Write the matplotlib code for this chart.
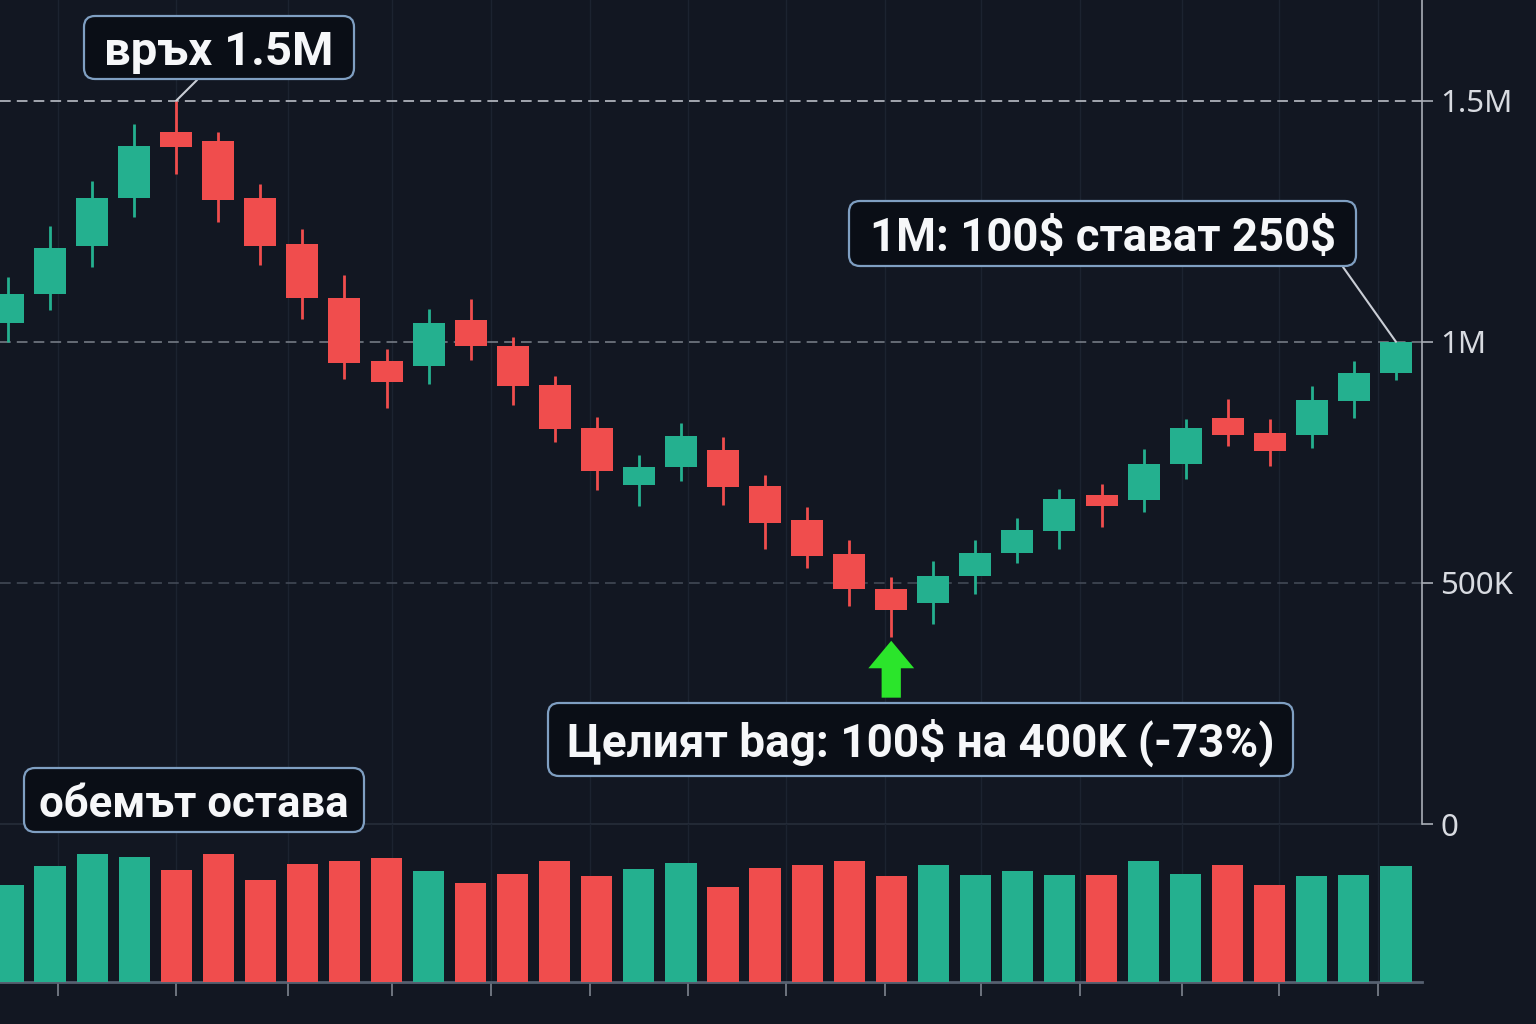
import matplotlib
matplotlib.use('Agg')
import matplotlib.pyplot as plt
from matplotlib.patches import FancyBboxPatch

plt.rcParams['font.family'] = ['Roboto', 'DejaVu Sans']

# candle data, prices in K
opens = [1040, 1100, 1199, 1299, 1435, 1416, 1299, 1203, 1091, 961,
         949, 1045, 992, 910, 822, 702, 741, 776, 700, 631,
         559, 488, 459, 514, 561, 608, 682, 671, 747, 841,
         810, 806, 878, 935]
highs = [1135, 1240, 1333, 1452, 1500, 1435, 1327, 1234, 1139, 986,
         1067, 1089, 1009, 929, 845, 765, 831, 802, 724, 657,
         588, 512, 545, 588, 635, 694, 706, 777, 839, 882,
         839, 908, 961, 1000]
lows = [1000, 1065, 1156, 1258, 1348, 1249, 1160, 1048, 922, 863,
        912, 963, 869, 792, 692, 659, 712, 661, 571, 531,
        453, 388, 414, 478, 541, 571, 616, 647, 716, 784,
        743, 780, 843, 920]
closes = [1100, 1195, 1299, 1407, 1403, 1294, 1199, 1091, 957, 916,
          1039, 992, 908, 820, 733, 741, 804, 698, 624, 555,
          488, 443, 514, 563, 610, 673, 659, 747, 822, 806,
          773, 880, 935, 1000]
volumes = [97, 116, 128, 125, 112, 128, 102, 118, 121, 124,
           111, 99, 108, 121, 106, 113, 119, 95, 114, 117,
           121, 106, 117, 107, 111, 107, 107, 121, 108, 117,
           97, 106, 107, 116]

price_ticks = [0, 500, 1000, 1500]
price_labels = ['0', '500K', '1M', '1.5M']
time_ticks = [1.19, 3.99, 6.66, 9.13, 11.48, 13.84, 16.17, 18.50, 20.85,
              23.13, 25.49, 27.91, 30.22, 32.57]

bg = '#121722'
up = '#24b08f'
down = '#f04d4d'

W, H = 1536, 1024
fig = plt.figure(figsize=(W / 100, H / 100), dpi=100, facecolor=bg)
ax = fig.add_axes([0, 0.1953, 0.9258, 0.8047])
axv = fig.add_axes([0, 0.041, 0.9258, 0.1543])

x = list(range(len(opens)))
cols = [up if c >= o else down for o, c in zip(opens, closes)]

for a in (ax, axv):
    a.set_facecolor('none')
    a.set_xlim(-0.19, 33.62)
    for s in a.spines.values():
        s.set_visible(False)
    for t in time_ticks:
        a.axvline(t, color='#1c2330', lw=1, zorder=0)

# price panel
ax.set_ylim(0, 1708.8)
ax.vlines(x, lows, highs, colors=cols, lw=2, zorder=3)
ax.bar(x, [abs(c - o) for o, c in zip(opens, closes)],
       bottom=[min(o, c) for o, c in zip(opens, closes)],
       width=0.76, color=cols, zorder=4)

ax.axhline(1500, color='#c9cdd5', lw=1.1, ls=(0, (7, 4)), zorder=1)
ax.axhline(1000, color='#7d838d', lw=1.1, ls=(0, (7, 4)), zorder=1)
ax.axhline(500, color='#464d5a', lw=1.1, ls=(0, (7, 4)), zorder=1)
ax.axhline(0, color='#262d3a', lw=1.2, zorder=1, clip_on=False)

ax.spines['right'].set_visible(True)
ax.spines['right'].set_color('#a9aeb6')
ax.spines['right'].set_linewidth(1.2)
ax.yaxis.tick_right()
ax.set_yticks(price_ticks)
ax.set_yticklabels(price_labels, family=['Noto Sans', 'DejaVu Sans'])
ax.tick_params(axis='y', colors='#a9aeb6', length=8, width=1.2, pad=5,
               labelsize=22.5, labelcolor='#d8dbe1')
ax.set_xticks([])

# volume panel
axv.set_ylim(0, 158)
axv.bar(x, volumes, width=0.74, color=cols, zorder=3)
axv.spines['bottom'].set_visible(True)
axv.spines['bottom'].set_color('#566070')
axv.spines['bottom'].set_linewidth(2)
axv.set_yticks([])
axv.set_xticks(time_ticks)
axv.set_xticklabels([])
axv.tick_params(axis='x', colors='#7d848f', length=10, width=1.2)


def label_box(x0, y0, x1, y1, text, size=34):
    # box given in image pixels from the top-left corner
    box = FancyBboxPatch((x0 / 100, (H - y1) / 100), (x1 - x0) / 100, (y1 - y0) / 100,
                         boxstyle='round,pad=0,rounding_size=0.11',
                         transform=fig.dpi_scale_trans, fc='#0a0e16',
                         ec='#7f9fc2', lw=1.6, zorder=10)
    fig.patches.append(box)
    fig.text((x0 + x1) / 2 / W, 1 - ((y0 + y1) / 2 + 17) / H, text,
             ha='center', va='baseline', color='#f6f7f9', fontsize=size,
             fontweight='bold', parse_math=False, zorder=11)


label_box(84, 16, 354, 79, 'връх 1.5M', 34)
label_box(849, 201, 1356, 266, '1M: 100$ стават 250$', 32.8)
label_box(548, 703, 1293, 776, 'Целият bag: 100$ на 400K (-73%)', 33)
label_box(24, 768, 364, 832, 'обемът остава', 31.5)

ax.annotate('', xy=(4, highs[4]), xytext=(197, H - 80), textcoords='figure pixels',
            arrowprops=dict(arrowstyle='-', color='#c9cdd5', lw=1.5,
                            shrinkA=0, shrinkB=0), zorder=9)
ax.annotate('', xy=(33, highs[33]), xytext=(1343, H - 267), textcoords='figure pixels',
            arrowprops=dict(arrowstyle='-', color='#c9cdd5', lw=1.5,
                            shrinkA=0, shrinkB=0), zorder=9)
ax.annotate('', xy=(21, 380), xytext=(21, 262),
            arrowprops=dict(arrowstyle='simple,head_length=0.6,head_width=1.0,tail_width=0.42',
                            mutation_scale=33, fc='#2be52b', ec='none',
                            shrinkA=0, shrinkB=0), zorder=9)

fig.savefig('out.png', dpi=100, facecolor=bg)
